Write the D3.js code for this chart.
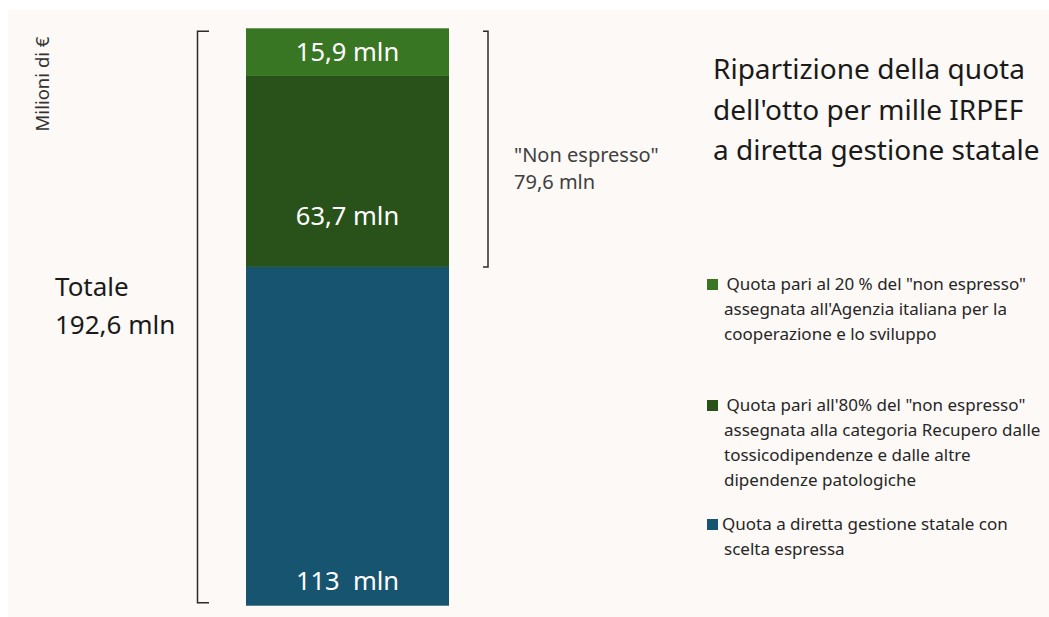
<!DOCTYPE html>
<html>
<head>
<meta charset="utf-8">
<script src="https://cdn.jsdelivr.net/npm/d3@7"></script>
<style>
  body { margin: 0; background: #ffffff; }
  text { font-family: "Noto Sans", "DejaVu Sans", sans-serif; }
</style>
</head>
<body>
<script>
// data (milioni di euro), bottom to top
var segments = ["espressa", "ottanta", "venti"];
var values = [113, 63.7, 15.9];
var barLabels = ["113  mln", "63,7 mln", "15,9 mln"];
var colors = ["#165470", "#28521a", "#387623"];

var totalLabel = ["Totale", "192,6 mln"];
var nonEspressoLabel = ["\"Non espresso\"", "79,6 mln"];
var titleLines = ["Ripartizione della quota", "dell'otto per mille IRPEF", "a diretta gestione statale"];

var legendItems = [
  {color: "#387623", lines: [" Quota pari al 20 % del \"non espresso\"", "assegnata all'Agenzia italiana per la", "cooperazione e lo sviluppo"]},
  {color: "#28521a", lines: [" Quota pari all'80% del \"non espresso\"", "assegnata alla categoria Recupero dalle", "tossicodipendenze e dalle altre", "dipendenze patologiche"]},
  {color: "#165470", lines: ["Quota a diretta gestione statale con", "scelta espressa"]}
];

var w = 1049, h = 617;

var svg = d3.select("body")
  .append("svg")
  .attr("width", w)
  .attr("height", h);

// cream panel
svg.append("rect")
  .attr("x", 8).attr("y", 10)
  .attr("width", w - 8).attr("height", h - 10)
  .attr("fill", "#fdf9f6");

// stacked values
var stacked = [];
var acc = 0;
values.forEach(function(v, i) {
  stacked.push({key: segments[i], y0: acc, y1: acc + v, label: barLabels[i], color: colors[i]});
  acc += v;
});
var total = acc;

var yScale = d3.scaleLinear()
  .domain([0, total])
  .range([605.7, 28.3]);

var xScale = d3.scaleBand()
  .domain(["bar"])
  .range([246, 449])
  .padding(0);

var bar = svg.append("g");

bar.selectAll("rect")
  .data(stacked)
  .enter()
  .append("rect")
  .attr("x", xScale("bar"))
  .attr("width", xScale.bandwidth())
  .attr("y", function(d) { return yScale(d.y1); })
  .attr("height", function(d) { return yScale(d.y0) - yScale(d.y1); })
  .attr("fill", function(d) { return d.color; });

// labels sit near the bottom of the two lower segments, centred in the top one
bar.selectAll("text")
  .data(stacked)
  .enter()
  .append("text")
  .attr("x", xScale("bar") + xScale.bandwidth() / 2)
  .attr("y", function(d) {
    if (d.key === "espressa") return yScale(d.y0) - 16;
    if (d.key === "ottanta") return yScale(d.y0) - 42;
    return yScale((d.y0 + d.y1) / 2) + 9;
  })
  .attr("text-anchor", "middle")
  .attr("fill", "#ffffff")
  .attr("font-size", 25.5)
  .style("white-space", "pre")
  .text(function(d) { return d.label; });

// brackets
var bracketColor = "#2b2b2b";
svg.append("path")
  .attr("d", "M209," + (yScale(total) + 3) + "H197.5V" + (yScale(0) - 3) + "H209")
  .attr("fill", "none")
  .attr("stroke", bracketColor)
  .attr("stroke-width", 1.5);

svg.append("path")
  .attr("d", "M483," + (yScale(total) + 3) + "H488V" + yScale(values[0]) + "H483")
  .attr("fill", "none")
  .attr("stroke", bracketColor)
  .attr("stroke-width", 1.5);

// y label
svg.append("text")
  .attr("transform", "translate(49,84) rotate(-90)")
  .attr("text-anchor", "middle")
  .attr("fill", "#333333")
  .attr("font-size", 18.5)
  .text("Milioni di €");

// totale
svg.append("text")
  .attr("x", 55).attr("y", 296)
  .attr("fill", "#1a1a1a")
  .attr("font-size", 26)
  .selectAll("tspan")
  .data(totalLabel)
  .enter()
  .append("tspan")
  .attr("x", 55)
  .attr("dy", function(d, i) { return i ? 38 : 0; })
  .text(function(d) { return d; });

// non espresso
svg.append("text")
  .attr("x", 514).attr("y", 162)
  .attr("fill", "#404040")
  .attr("font-size", 20)
  .selectAll("tspan")
  .data(nonEspressoLabel)
  .enter()
  .append("tspan")
  .attr("x", 514)
  .attr("dy", function(d, i) { return i ? 27 : 0; })
  .text(function(d) { return d; });

// title
svg.append("text")
  .attr("x", 713).attr("y", 79)
  .attr("fill", "#1a1a1a")
  .attr("font-size", 28)
  .selectAll("tspan")
  .data(titleLines)
  .enter()
  .append("tspan")
  .attr("x", 713)
  .attr("dy", function(d, i) { return i ? 40.5 : 0; })
  .text(function(d) { return d; });

// legend
var legendTop = [290, 411, 530];
var lg = svg.append("g");
legendItems.forEach(function(item, i) {
  lg.append("rect")
    .attr("x", 707).attr("y", legendTop[i] - 11)
    .attr("width", 11).attr("height", 11)
    .attr("fill", item.color);
  lg.append("text")
    .attr("y", legendTop[i])
    .attr("fill", "#262626")
    .attr("font-size", 17)
    .style("white-space", "pre")
    .selectAll("tspan")
    .data(item.lines)
    .enter()
    .append("tspan")
    .attr("x", function(d, j) { return j ? 724 : 722; })
    .attr("dy", function(d, j) { return j ? 25 : 0; })
    .text(function(d) { return d; });
});
</script>
</body>
</html>
